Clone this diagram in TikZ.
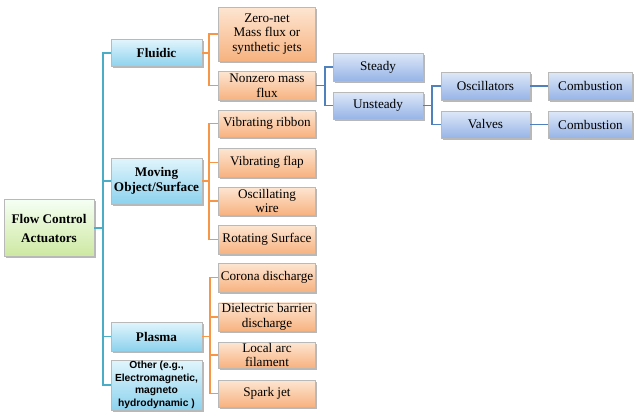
\documentclass[tikz,border=0pt]{standalone}
\usepackage{fontspec}
\setmainfont{Liberation Serif}
\newfontfamily\othersans{Liberation Sans}
\usetikzlibrary{shadows,calc}
\definecolor{trunkc}{HTML}{4BACC6}
\definecolor{orangec}{HTML}{F79646}
\definecolor{bluec}{HTML}{4F81BD}
\tikzset{
  box/.style={rectangle, draw=gray!55, line width=0.5pt, inner sep=1pt, align=center,
    font=\fontsize{13.2}{14.5}\selectfont,
    drop shadow={shadow xshift=1.6pt, shadow yshift=-1.6pt, fill=gray!65, opacity=0.85}},
  rootbox/.style={box, top color=green!4!white, bottom color={rgb,255:red,205;green,232;blue,160},
    minimum width=90pt, minimum height=57pt, font=\bfseries\fontsize{13.2}{19}\selectfont},
  lonebox/.style={box, top color={rgb,255:red,225;green,245;blue,252}, bottom color={rgb,255:red,140;green,210;blue,238},
    minimum width=91pt},
  obox/.style={box, top color={rgb,255:red,253;green,230;blue,210}, bottom color={rgb,255:red,247;green,178;blue,127},
    minimum width=97pt},
  bbox/.style={box, top color={rgb,255:red,222;green,232;blue,248}, bottom color={rgb,255:red,150;green,180;blue,230}},
  tline/.style={draw=trunkc, line width=1.6pt},
  oline/.style={draw=orangec, line width=1.6pt},
  bline/.style={draw=bluec, line width=1.6pt},
}
\begin{document}
\begin{tikzpicture}[x=1pt,y=-1pt]
\useasboundingbox (0,0) rectangle (635,418);
% root
\node[rootbox] (root) at (49,228) {Flow Control\\Actuators};
% level 1
\node[lonebox, minimum height=27pt, font=\bfseries\fontsize{13.2}{14.5}\selectfont] (fluidic) at (156.5,53) {Fluidic};
\node[lonebox, minimum height=46pt, font=\bfseries\fontsize{13.2}{14.5}\selectfont] (moving) at (156.5,181) {Moving\\Object/Surface};
\node[lonebox, minimum height=29pt, font=\bfseries\fontsize{13.2}{14.5}\selectfont] (plasma) at (156.5,336.5) {Plasma};
\node[lonebox, minimum height=50pt, font=\othersans\bfseries\fontsize{10.3}{12.5}\selectfont] (other) at (156.5,385) {Other (e.g.,\\Electromagnetic,\\magneto\\hydrodynamic )};
% level 2 orange
\node[obox, minimum height=54pt] (zero) at (267,34) {Zero-net\\Mass flux or\\synthetic jets};
\node[obox, minimum height=29pt] (nonzero) at (267,85.5) {Nonzero mass\\flux};
\node[obox, minimum height=27pt] (ribbon) at (267,123.5) {Vibrating ribbon};
\node[obox, minimum height=29pt] (flap) at (267,162.5) {Vibrating flap};
\node[obox, minimum height=28pt] (wire) at (267,201) {Oscillating\\wire};
\node[obox, minimum height=29pt] (rot) at (267,239.5) {Rotating Surface};
\node[obox, minimum height=29pt] (corona) at (267,277.5) {Corona discharge};
\node[obox, minimum height=28pt] (diel) at (267,317) {Dielectric barrier\\discharge};
\node[obox, minimum height=26pt] (arc) at (267,355) {Local arc\\filament};
\node[obox, minimum height=27pt] (spark) at (267,393.5) {Spark jet};
% right blue
\node[bbox, minimum width=90pt, minimum height=28pt] (steady) at (378,67) {Steady};
\node[bbox, minimum width=90pt, minimum height=27pt] (unsteady) at (378,105.5) {Unsteady};
\node[bbox, minimum width=89pt, minimum height=28pt] (osc) at (485.5,86) {Oscillators};
\node[bbox, minimum width=89pt, minimum height=27pt] (valves) at (485.5,124.5) {Valves};
\node[bbox, minimum width=84pt, minimum height=28pt] (comb1) at (590.5,86) {Combustion};
\node[bbox, minimum width=84pt, minimum height=27pt] (comb2) at (590.5,124.5) {Combustion};
% connectors
\foreach \c in {fluidic,moving,plasma,other}
  \draw[tline] (root.east) -- ++(9,0) |- (\c.west);
\foreach \c in {zero,nonzero}
  \draw[oline] (fluidic.east) -- ++(7,0) |- (\c.west);
\foreach \c in {ribbon,flap,wire,rot}
  \draw[oline] (moving.east) -- ++(7,0) |- (\c.west);
\foreach \c in {corona,diel,arc,spark}
  \draw[oline] (plasma.east) -- ++(8,0) |- (\c.west);
\foreach \c in {steady,unsteady}
  \draw[bline] (nonzero.east) -- ++(9,0) |- (\c.west);
\foreach \c in {osc,valves}
  \draw[bline] (unsteady.east) -- ++(9,0) |- (\c.west);
\draw[bline] (osc.east) -- (comb1.west);
\draw[bline] (valves.east) -- (comb2.west);
\end{tikzpicture}
\end{document}
